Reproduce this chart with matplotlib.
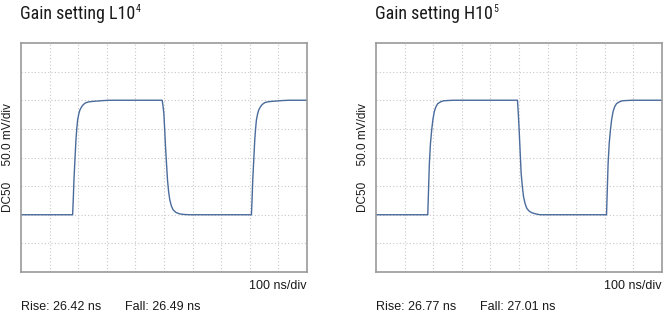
"""Two scope captures of a square-wave step response at two gain settings."""

import matplotlib.pyplot as plt

# waveform traces, in divisions (x: 0..10, y: 0..8)
L_T = [0.0, 1.805, 1.83, 1.851, 1.89, 1.921, 1.95, 1.979, 2.02, 2.06, 2.12,
       2.18, 2.26, 2.35, 2.5, 2.64, 2.9, 3.11,
       4.935, 4.965, 4.995, 5.025, 5.053, 5.09, 5.123, 5.16, 5.204, 5.26,
       5.32, 5.42, 5.55, 5.7, 5.90,
       8.057, 8.082, 8.103, 8.142, 8.173, 8.202, 8.231, 8.272, 8.312, 8.372,
       8.432, 8.512, 8.602, 8.752, 8.892, 9.15, 9.36, 10.0]
L_V = [2.0, 2.0, 2.6, 3.21, 4.0, 4.61, 5.0, 5.31, 5.52, 5.66, 5.77,
       5.85, 5.91, 5.94, 5.96, 5.97, 5.99, 6.0,
       6.0, 5.8, 5.54, 4.95, 4.38, 3.75, 3.21, 2.82, 2.51, 2.3,
       2.17, 2.08, 2.03, 2.01, 2.0,
       2.0, 2.6, 3.21, 4.0, 4.61, 5.0, 5.31, 5.52, 5.66, 5.77,
       5.85, 5.91, 5.94, 5.96, 5.97, 5.99, 6.0, 6.0]

H_T = [0.0, 1.81, 1.838, 1.866, 1.905, 1.948, 1.99, 2.04, 2.095, 2.158,
       2.25, 2.357, 2.5, 2.71,
       4.947, 4.975, 5.005, 5.04, 5.075, 5.115, 5.157, 5.21, 5.27, 5.35,
       5.45, 5.58, 5.74,
       8.06, 8.088, 8.116, 8.155, 8.198, 8.24, 8.29, 8.345, 8.408,
       8.5, 8.607, 8.75, 8.96, 10.0]
H_V = [2.0, 2.0, 2.9, 3.8, 4.5, 4.97, 5.33, 5.61, 5.77, 5.88,
       5.94, 5.98, 5.99, 6.0,
       6.0, 5.55, 4.97, 4.2, 3.45, 3.0, 2.64, 2.4, 2.23, 2.13,
       2.07, 2.03, 2.0,
       2.0, 2.9, 3.8, 4.5, 4.97, 5.33, 5.61, 5.77, 5.88,
       5.94, 5.98, 5.99, 6.0, 6.0]

PANELS = [
    ("Gain setting L10", "4", L_T, L_V, "Rise: 26.42 ns", "Fall: 26.49 ns"),
    ("Gain setting H10", "5", H_T, H_V, "Rise: 26.77 ns", "Fall: 27.01 ns"),
]

NARROW = ["Roboto Condensed", "DejaVu Sans"]
SANS = ["Liberation Sans", "DejaVu Sans"]

fig = plt.figure(figsize=(6.69, 3.36), dpi=100)
lefts = [21 / 669, 376 / 669]

for left, (title, sup, t, v, rise, fall) in zip(lefts, PANELS):
    ax = fig.add_axes([left, 64 / 336, 286 / 669, 229 / 336])
    ax.plot(t, v, color="#4a6b9c", linewidth=1.0)
    ax.set_xlim(0, 10)
    ax.set_ylim(0, 8)
    ax.set_xticks(range(1, 10))
    ax.set_yticks(range(1, 8))
    ax.tick_params(length=0, labelbottom=False, labelleft=False)
    ax.grid(color="#c8c8c8", linestyle=(0, (1, 2)), linewidth=0.8)
    for s in ax.spines.values():
        s.set_color("#9a9a9a")
        s.set_linewidth(1.2)

    ttl = fig.text(left - 1 / 669, 1 - 14 / 336, title, family=NARROW,
                   fontsize=13, va="center", ha="left", color="#1a1a1a")
    ax.annotate(sup, xy=(1, 0.8), xycoords=ttl, xytext=(0.5, 0),
                textcoords="offset points", family=NARROW, fontsize=7,
                va="center", ha="left", color="#1a1a1a")

    ax.text(-0.045, 0.5, "DC50     50.0 mV/div", transform=ax.transAxes,
            rotation=90, ha="center", va="center", family=SANS,
            fontsize=8.5, color="#1a1a1a")
    ax.text(1.0, -0.06, "100 ns/div", transform=ax.transAxes, ha="right",
            va="center", family=SANS, fontsize=9, color="#1a1a1a")
    ax.text(0.0, -0.155, rise, transform=ax.transAxes, ha="left",
            va="center", family=SANS, fontsize=9, color="#1a1a1a")
    ax.text(104 / 286, -0.155, fall, transform=ax.transAxes, ha="left",
            va="center", family=SANS, fontsize=9, color="#1a1a1a")

fig.savefig("out.png", dpi=100)
